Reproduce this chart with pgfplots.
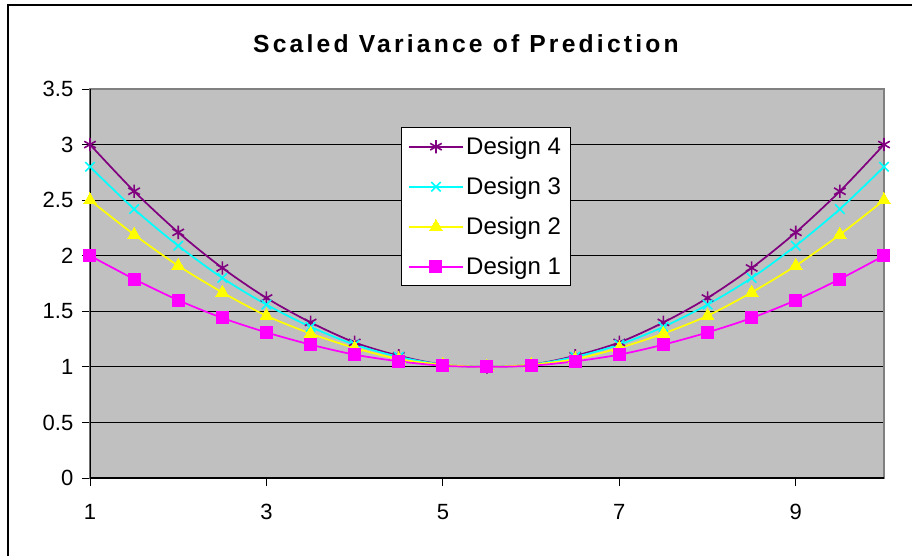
\documentclass[border=0pt]{standalone}
\usepackage{fontspec}
\setmainfont{Liberation Sans}
\usepackage{pgfplots}
\pgfplotsset{compat=1.18}
\usepackage{pgfplotstable}
\definecolor{dpurple}{HTML}{800080}
\definecolor{dcyan}{HTML}{00FFFF}
\definecolor{dyellow}{HTML}{FFFF00}
\definecolor{dmagenta}{HTML}{FF00FF}
\definecolor{plotgray}{HTML}{C0C0C0}
\definecolor{framegray}{HTML}{808080}

\pgfplotstableread{
x    d4    d3    d2    d1
1    3.00  2.80  2.50  2.00
1.5  2.58  2.42  2.19  1.79
2    2.21  2.09  1.91  1.60
2.5  1.89  1.80  1.67  1.44
3    1.62  1.56  1.46  1.31
3.5  1.40  1.36  1.30  1.20
4    1.22  1.20  1.17  1.11
4.5  1.10  1.09  1.07  1.05
5    1.02  1.02  1.02  1.01
5.5  1.00  1.00  1.00  1.00
6    1.02  1.02  1.02  1.01
6.5  1.10  1.09  1.07  1.05
7    1.22  1.20  1.17  1.11
7.5  1.40  1.36  1.30  1.20
8    1.62  1.56  1.46  1.31
8.5  1.89  1.80  1.67  1.44
9    2.21  2.09  1.91  1.60
9.5  2.58  2.42  2.19  1.79
10   3.00  2.80  2.50  2.00
}\datatable

\begin{document}
\begin{tikzpicture}
\path[use as bounding box] (-67.5pt,-58.5pt) rectangle (616.5pt,358.5pt);
\draw[line width=1.5pt] (-61.5pt,-58.5pt) -- (-61.5pt,354.75pt) -- (616.5pt,354.75pt);
\node[font=\fontsize{18.5}{21}\selectfont\bfseries\addfontfeature{LetterSpace=13}] at (282pt,326pt) {Scaled Variance of Prediction};
\begin{axis}[
  at={(0,0)}, anchor=south west,
  scale only axis,
  width=595.5pt, height=291.75pt,
  xmin=1, xmax=10, ymin=0, ymax=3.5,
  xtick={1,3,5,7,9},
  ytick={0,0.5,1,1.5,2,2.5,3,3.5},
  ymajorgrids,
  grid style={black, line width=0.6pt},
  axis background/.style={fill=plotgray},
  axis line style={framegray, line width=1pt},
  tick align=outside,
  major tick length=6pt,
  tick style={black, line width=0.6pt},
  xtick pos=bottom, ytick pos=left,
  /pgf/number format/assume math mode=true,
  ticklabel style={font=\fontsize{16.5}{19}\selectfont},
  yticklabel style={xshift=-3pt},
  xticklabel style={yshift=-10pt},
  legend style={at={(0.392,0.902)}, anchor=north west, draw=black, line width=0.8pt, fill=white,
    font=\fontsize{18}{21}\selectfont, row sep=11.5pt, inner sep=5pt,
    nodes={inner sep=2pt}, cells={anchor=west}},
  legend image code/.code={%
    \draw[mark repeat=2,mark phase=2] plot coordinates {(0pt,0pt) (20pt,0pt) (40pt,0pt)};},
  every axis plot/.append style={line width=1.3pt, smooth},
]
\addplot[dpurple, mark=asterisk, mark size=5pt, mark options={line width=1.2pt}] table[x=x,y=d4] {\datatable};
\addlegendentry{Design 4}
\addplot[dcyan, mark=x, mark size=5pt, mark options={line width=1.2pt}] table[x=x,y=d3] {\datatable};
\addlegendentry{Design 3}
\addplot[dyellow, mark=triangle*, mark size=5.5pt, mark options={line width=0pt}] table[x=x,y=d2] {\datatable};
\addlegendentry{Design 2}
\addplot[dmagenta, mark=square*, mark size=4.5pt, mark options={line width=0pt}] table[x=x,y=d1] {\datatable};
\addlegendentry{Design 1}
\draw[black, line width=1pt] (rel axis cs:0,1) -- (rel axis cs:0,0) -- (rel axis cs:1,0);
\end{axis}
\end{tikzpicture}
\end{document}
